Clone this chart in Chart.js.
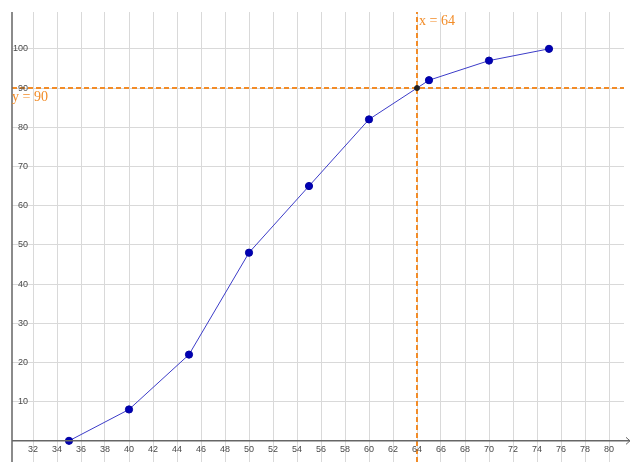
<!DOCTYPE html>
<html>
<head>
<meta charset="utf-8">
<script src="https://cdn.jsdelivr.net/npm/chart.js@4/dist/chart.umd.min.js"></script>
<style>
  html, body { margin: 0; padding: 0; background: #fff; }
  #wrap { width: 638px; height: 476px; }
</style>
</head>
<body>
<div id="wrap"><canvas id="myChart"></canvas></div>
<script>
// values
var scores = [35, 40, 45, 50, 55, 60, 65, 70, 75];
var cumPercent = [0, 8, 22, 48, 65, 82, 92, 97, 100];

var xTicks = [32, 34, 36, 38, 40, 42, 44, 46, 48, 50, 52, 54, 56, 58, 60, 62, 64, 66, 68, 70, 72, 74, 76, 78, 80];
var yTicks = [10, 20, 30, 40, 50, 60, 70, 80, 90, 100];

var xMin = 30.25, xMax = 81.25;
var yMin = -5.4, yMax = 109.4;

var markX = 64, markY = 90;

var orange = 'rgb(242, 140, 40)';

// axes, arrow, tick labels and the two line labels
var axesPlugin = {
    id: 'axesPlugin',
    afterDatasetsDraw: function (chart) {
        var ctx = chart.ctx;
        var xs = chart.scales.x, ys = chart.scales.y;
        var area = chart.chartArea;
        var y0 = ys.getPixelForValue(0);

        ctx.save();
        ctx.strokeStyle = '#666';
        ctx.lineWidth = 1.5;
        ctx.beginPath();
        ctx.moveTo(area.left, y0);
        ctx.lineTo(area.right + 6, y0);
        ctx.moveTo(area.left, area.top);
        ctx.lineTo(area.left, area.bottom);
        ctx.stroke();

        // arrow head
        ctx.lineWidth = 1;
        ctx.beginPath();
        ctx.moveTo(area.right + 2, y0 - 3.5);
        ctx.lineTo(area.right + 6, y0);
        ctx.lineTo(area.right + 2, y0 + 3.5);
        ctx.stroke();

        ctx.fillStyle = '#4a4a4a';
        ctx.font = '9px "Liberation Sans", Arial, sans-serif';
        ctx.textAlign = 'center';
        ctx.textBaseline = 'middle';
        xTicks.forEach(function (v) {
            ctx.fillText(String(v), xs.getPixelForValue(v), y0 + 9);
        });
        ctx.textAlign = 'right';
        yTicks.forEach(function (v) {
            ctx.fillText(String(v), area.left + 16, ys.getPixelForValue(v));
        });

        ctx.fillStyle = orange;
        ctx.font = '14px "Liberation Serif", "DejaVu Serif", serif';
        ctx.textAlign = 'left';
        ctx.fillText('x = ' + markX, xs.getPixelForValue(markX) + 2, area.top + 9);
        ctx.fillText('y = ' + markY, area.left, ys.getPixelForValue(markY) + 9);
        ctx.restore();
    }
};

var curve = scores.map(function (s, i) { return { x: s, y: cumPercent[i] }; });

var ctx = document.getElementById('myChart').getContext('2d');
var chart = new Chart(ctx, {
    type: 'scatter',
    data: {
        datasets: [{
            label: 'ogive',
            data: curve,
            showLine: true,
            borderColor: 'rgb(60, 60, 200)',
            borderWidth: 1,
            pointRadius: 3.6,
            pointBackgroundColor: 'rgb(0, 0, 180)',
            pointBorderColor: 'rgb(0, 0, 160)',
            pointBorderWidth: 1,
            order: 1
        }, {
            label: 'x = 64',
            data: [{ x: markX, y: yMin }, { x: markX, y: yMax }],
            showLine: true,
            borderColor: orange,
            borderWidth: 2,
            borderDash: [5, 3],
            pointRadius: 0,
            order: 2
        }, {
            label: 'y = 90',
            data: [{ x: xMin, y: markY }, { x: xMax + 0.4, y: markY }],
            showLine: true,
            borderColor: orange,
            borderWidth: 2,
            borderDash: [5, 3],
            pointRadius: 0,
            order: 2
        }, {
            label: 'intersection',
            data: [{ x: markX, y: markY }],
            pointRadius: 2.5,
            pointBackgroundColor: '#222',
            pointBorderColor: '#222',
            order: 0
        }]
    },
    options: {
        responsive: true,
        maintainAspectRatio: false,
        animation: false,
        layout: { padding: { left: 12, top: 12, right: 14, bottom: 14 } },
        plugins: {
            legend: { display: false },
            tooltip: { enabled: false }
        },
        scales: {
            x: {
                type: 'linear',
                min: xMin,
                max: xMax,
                afterBuildTicks: function (scale) {
                    scale.ticks = xTicks.map(function (v) { return { value: v }; });
                },
                ticks: { display: false },
                grid: { color: '#d9d9d9', lineWidth: 1, drawTicks: false },
                border: { display: false }
            },
            y: {
                type: 'linear',
                min: yMin,
                max: yMax,
                afterBuildTicks: function (scale) {
                    scale.ticks = yTicks.map(function (v) { return { value: v }; });
                },
                ticks: { display: false },
                grid: { color: '#d9d9d9', lineWidth: 1, drawTicks: false },
                border: { display: false }
            }
        }
    },
    plugins: [axesPlugin]
});
</script>
</body>
</html>
